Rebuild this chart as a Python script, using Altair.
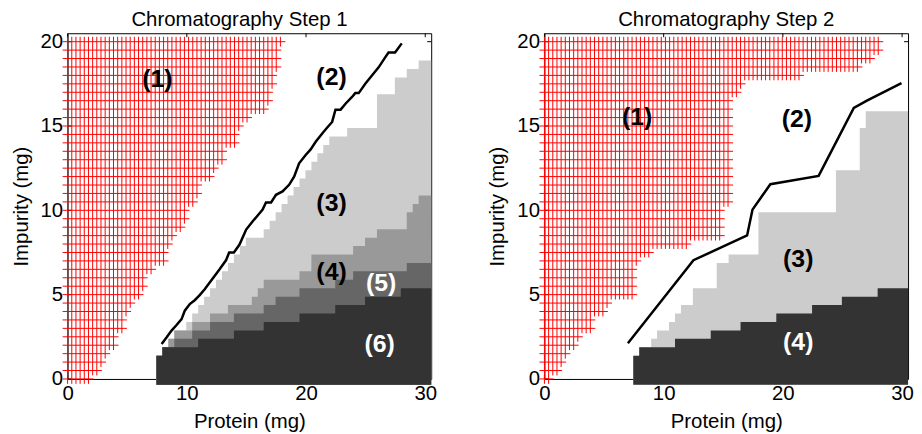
import altair as alt
import pandas as pd

X_DOMAIN = [0, 30.5]
Y_DOMAIN = [0, 20.5]
FLOOR = -0.35
X_TICKS = [0, 10, 20, 30]
Y_TICKS = [0, 5, 10, 15, 20]
W, H = 366, 348
FONT = "Liberation Sans"
TITLES = ["Chromatography Step 1", "Chromatography Step 2"]

# ---- red cross-hatched region (1): right edge of each hatch row ----
HATCH_ROWS = [20.0, 19.5, 19.0, 18.5, 18.0, 17.5, 17.0, 16.5, 16.0, 15.5, 15.0, 14.5, 14.0,
              13.5, 13.0, 12.5, 12.0, 11.5, 11.0, 10.5, 10.0, 9.5, 9.0, 8.5, 8.0, 7.5, 7.0,
              6.5, 6.0, 5.5, 5.0, 4.5, 4.0, 3.5, 3.0, 2.5, 2.0, 1.5, 1.0, 0.5, 0.0]
HATCH1_EDGE = [18.59, 18.03, 17.98, 17.98, 17.89, 17.89, 17.48, 17.48, 16.92, 15.47, 14.98,
               14.47, 14.47, 13.44, 13.44, 12.97, 12.47, 11.5, 11.5, 10.95, 10.53, 10.53, 9.97,
               9.48, 9.0, 8.53, 8.53, 7.47, 6.97, 6.97, 6.5, 5.95, 5.53, 4.97, 4.97, 4.41, 4.41,
               3.86, 3.45, 2.89, 2.34]
HATCH2_EDGE = [28.46, 28.46, 27.9, 26.93, 21.93, 17.07, 16.52, 15.96, 15.96, 15.96, 15.96,
               15.96, 15.96, 15.96, 15.96, 15.96, 15.96, 15.96, 15.96, 15.96, 15.4, 15.4, 15.4,
               15.4, 12.35, 9.43, 8.46, 8.04, 8.04, 8.04, 8.04, 5.96, 5.54, 4.43, 4.43, 3.46,
               2.9, 2.49, 1.93, 1.51, 0.96]
HATCH_DX = 0.35      # spacing of the vertical hatch lines
HATCH_STUB_X = 0.42  # overhang of hatch lines past the last crossing
HATCH_STUB_Y = 0.29

# ---- Step 1 grey regions: step starts (x) and top of region (y) ----
P1_L3_X = [7.45, 7.95, 8.45, 8.95, 9.95, 10.45, 10.95, 11.45, 11.95, 12.45, 12.95, 13.45,
           13.95, 14.45, 14.95, 16.45, 16.95, 17.45, 17.95, 18.45, 18.95, 19.45, 19.95, 20.45,
           20.95, 21.45, 21.95, 23.45, 25.95, 27.45, 28.45, 29.45]
P1_L3_Y = [1.38, 1.88, 2.38, 2.88, 3.38, 3.88, 4.38, 4.88, 5.38, 5.88, 6.38, 6.88, 7.38, 7.88,
           8.38, 8.88, 9.38, 9.88, 10.38, 10.88, 11.38, 11.88, 12.38, 12.88, 13.38, 13.88,
           14.38, 14.88, 16.88, 17.88, 18.38, 18.88]
P1_L4_X = [7.45, 7.95, 8.45, 8.95, 10.45, 11.95, 13.45, 15.45, 15.95, 16.45, 19.45, 20.45,
           23.95, 24.95, 25.95, 28.45, 28.95, 29.45]
P1_L4_Y = [1.38, 1.88, 2.38, 2.88, 3.38, 3.88, 4.38, 4.88, 5.38, 5.88, 6.38, 7.38, 7.88, 8.38,
           8.88, 9.88, 10.38, 10.88]
P1_L5_X = [7.45, 7.95, 8.95, 10.45, 11.95, 13.95, 16.45, 17.45, 19.45, 22.45, 23.95, 28.45]
P1_L5_Y = [1.38, 1.88, 2.38, 2.88, 3.38, 3.88, 4.38, 4.88, 5.38, 5.88, 6.38, 6.88]
P1_L6_X = [7.45, 7.95, 10.95, 13.95, 16.45, 19.45, 22.45, 24.95, 27.95]
P1_L6_Y = [1.38, 1.88, 2.38, 2.88, 3.38, 3.88, 4.38, 4.88, 5.38]

# ---- Step 2 grey regions ----
P2_L3_X = [7.45, 7.95, 8.95, 9.45, 10.45, 10.95, 11.45, 12.45, 14.45, 15.45, 17.95, 24.45,
           26.45, 26.95]
P2_L3_Y = [1.38, 1.88, 2.38, 2.88, 3.38, 3.88, 4.38, 5.38, 6.88, 7.38, 9.88, 12.38, 14.88,
           15.88]
P2_L4_X = [7.45, 7.95, 10.95, 13.95, 16.45, 19.45, 22.45, 24.95, 27.95]
P2_L4_Y = [1.38, 1.88, 2.38, 2.88, 3.38, 3.88, 4.38, 4.88, 5.38]

# ---- black boundary lines ----
P1_LINE_X = [7.89, 8.31, 8.72, 9.14, 9.56, 9.83, 10.25, 10.66, 11.08, 11.5, 11.92, 12.33,
             12.75, 13.3, 13.55, 13.95, 14.42, 14.98, 15.53, 16.36, 16.64, 17.07, 17.48,
             18.03, 18.58, 19.0, 19.42, 19.97, 20.39, 20.81, 21.36, 21.78, 22.19, 22.47,
             22.9, 23.31, 23.86, 24.13, 24.42, 24.97, 25.53, 26.09, 26.64, 26.92, 27.47, 28.03]
P1_LINE_Y = [2.08, 2.47, 2.87, 3.2, 3.55, 4.05, 4.44, 4.67, 4.97, 5.32, 5.72, 6.11, 6.5,
             7.05, 7.5, 7.5, 7.97, 8.86, 9.35, 10.04, 10.47, 10.47, 10.92, 11.12, 11.51, 12.0,
             12.79, 13.28, 13.61, 14.06, 14.56, 14.91, 15.24, 15.97, 15.97, 16.32, 16.72,
             16.95, 16.95, 17.5, 17.99, 18.48, 19.07, 19.36, 19.36, 19.9]
P2_LINE_X = [7.0, 12.5, 17.0, 17.45, 18.95, 23.0, 25.95, 27.05, 29.95]
P2_LINE_Y = [2.12, 7.04, 8.51, 10.04, 11.55, 12.04, 16.07, 16.5, 17.54]

# ---- region labels ----
P1_LAB = ["(1)", "(2)", "(3)", "(4)", "(5)", "(6)"]
P1_LAB_X = [7.53, 22.14, 22.14, 22.14, 26.3, 26.17]
P1_LAB_Y = [17.8, 17.93, 10.43, 6.35, 5.66, 2.08]
P1_LAB_C = ["black", "black", "black", "black", "white", "white"]
P2_LAB = ["(1)", "(2)", "(3)", "(4)"]
P2_LAB_X = [7.77, 21.18, 21.29, 21.29]
P2_LAB_Y = [15.52, 15.42, 7.13, 2.18]
P2_LAB_C = ["black", "black", "black", "white"]

xs = alt.Scale(domain=X_DOMAIN, nice=False, zero=False)
ys = alt.Scale(domain=Y_DOMAIN, nice=False, zero=False)
X_AXIS = alt.Axis(values=X_TICKS, title="Protein (mg)", domain=False, ticks=False,
                  grid=False, labelFlush=False, labelPadding=5, titlePadding=7)
Y_AXIS = alt.Axis(values=Y_TICKS, title="Impurity (mg)", domain=False, ticks=False,
                  grid=False, labelFlush=False, labelPadding=5, titlePadding=9)


def X(field):
    return alt.X(field, type="quantitative", scale=xs, axis=X_AXIS)


def Y(field):
    return alt.Y(field, type="quantitative", scale=ys, axis=Y_AXIS)


def hatch_tables(edges):
    """Horizontal and vertical hatch segments of the cross-hatched region."""
    counts = []
    for e in edges:
        k = 0
        while (k + 1) * HATCH_DX <= e - HATCH_STUB_X:
            k += 1
        counts.append(k + 1)
    hor = pd.DataFrame({
        "y": HATCH_ROWS,
        "x1": [-HATCH_STUB_X] * len(HATCH_ROWS),
        "x2": [(c - 1) * HATCH_DX + HATCH_STUB_X for c in counts],
    })
    ver = []
    for k in range(max(counts)):
        rows = [y for y, c in zip(HATCH_ROWS, counts) if c > k]
        ver.append({"x": k * HATCH_DX, "y1": min(rows) - HATCH_STUB_Y,
                    "y2": max(rows) + HATCH_STUB_Y})
    return hor, pd.DataFrame(ver)


def steps_df(xv, yv):
    rows = [{"x": a, "top": b, "bottom": FLOOR} for a, b in zip(xv, yv)]
    rows.append({"x": X_DOMAIN[1], "top": yv[-1], "bottom": FLOOR})
    return pd.DataFrame(rows)


def panel(title, title_x, edges, levels, lx, ly, labs, labx, laby, labc):
    tx = pd.DataFrame({"v": X_TICKS})
    ty = pd.DataFrame({"v": Y_TICKS})
    hor, ver = hatch_tables(edges)
    layers = [
        alt.Chart(tx).mark_rule(color="black").encode(x=X("v"), y=alt.value(0), y2=alt.value(4)),
        alt.Chart(tx).mark_rule(color="black").encode(x=X("v"), y=alt.value(H), y2=alt.value(H - 4)),
        alt.Chart(ty).mark_rule(color="black").encode(y=Y("v"), x=alt.value(0), x2=alt.value(4)),
        alt.Chart(ty).mark_rule(color="black").encode(y=Y("v"), x=alt.value(W), x2=alt.value(W - 4)),
        alt.Chart(hor).mark_rule(color="#ff0000", strokeWidth=1).encode(
            x=X("x1"), x2="x2", y=Y("y")),
        alt.Chart(ver).mark_rule(color="#ff0000", strokeWidth=1).encode(
            x=X("x"), y=Y("y1"), y2="y2"),
    ]
    for xv, yv, col in levels:
        layers.append(alt.Chart(steps_df(xv, yv)).mark_area(
            interpolate="step-after", color=col, opacity=1).encode(
            x=X("x"), y=Y("top"), y2="bottom"))
    layers.append(alt.Chart(pd.DataFrame({"x": lx, "y": ly, "o": list(range(len(lx)))})).mark_line(
        color="black", strokeWidth=2.5).encode(x=X("x"), y=Y("y"), order="o:Q"))
    layers.append(alt.Chart(pd.DataFrame({"t": labs, "x": labx, "y": laby, "c": labc})).mark_text(
        font=FONT, fontSize=25, fontWeight="bold", align="center", baseline="middle").encode(
        x=X("x"), y=Y("y"), text="t:N", color=alt.Color("c:N", scale=None)))
    # panel title, set just above the frame
    layers.append(alt.Chart(pd.DataFrame({"t": [title]})).mark_text(
        font=FONT, fontSize=20.5, color="black", align="center", baseline="alphabetic").encode(
        text="t:N", x=alt.value(title_x), y=alt.value(-7)))
    return alt.layer(*layers).properties(width=W, height=H)


p1 = panel(TITLES[0], W / 2 - 10, HATCH1_EDGE,
           [(P1_L3_X, P1_L3_Y, "#cccccc"), (P1_L4_X, P1_L4_Y, "#999999"),
            (P1_L5_X, P1_L5_Y, "#666666"), (P1_L6_X, P1_L6_Y, "#333333")],
           P1_LINE_X, P1_LINE_Y, P1_LAB, P1_LAB_X, P1_LAB_Y, P1_LAB_C)
p2 = panel(TITLES[1], W / 2, HATCH2_EDGE,
           [(P2_L3_X, P2_L3_Y, "#cccccc"), (P2_L4_X, P2_L4_Y, "#333333")],
           P2_LINE_X, P2_LINE_Y, P2_LAB, P2_LAB_X, P2_LAB_Y, P2_LAB_C)

chart = alt.hconcat(p1, p2, spacing=50).properties(
    padding={"left": 2, "top": 0, "right": 0, "bottom": 0}
).configure_view(stroke="black", strokeWidth=1).configure_axis(
    labelFont=FONT, titleFont=FONT, labelFontSize=20.5, titleFontSize=20.5,
    labelColor="black", titleColor="black", titleFontWeight="normal"
)

chart.save("out.html", embed_options={"renderer": "svg", "actions": False})
